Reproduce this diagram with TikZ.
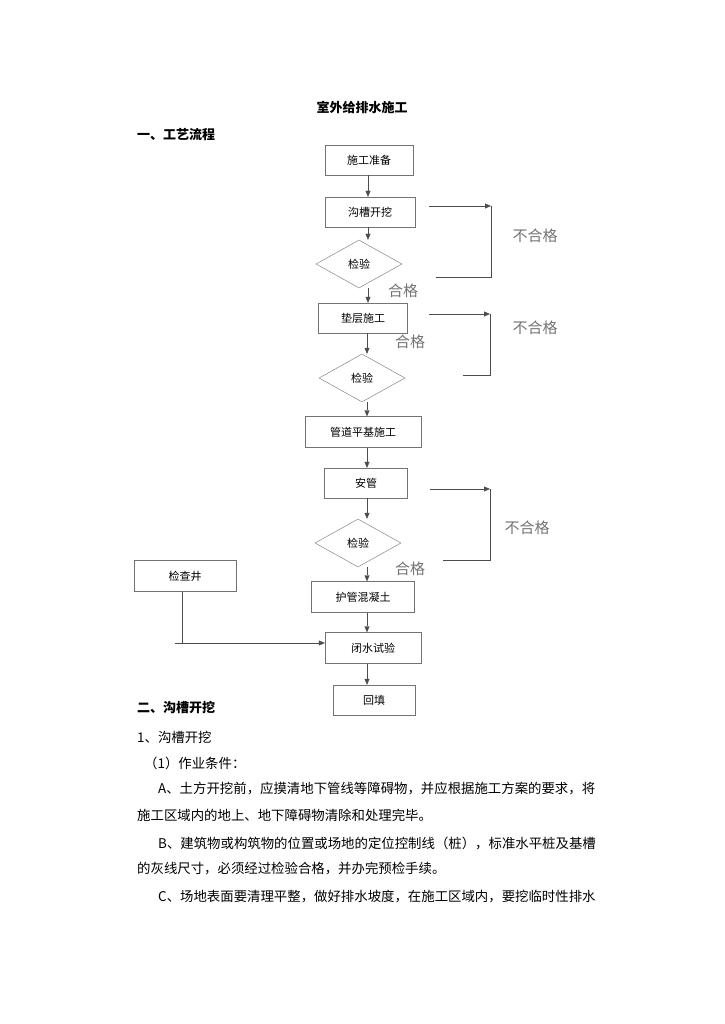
\documentclass[tikz,border=0pt]{standalone}
\usepackage{fontspec}
\setmainfont{Noto Sans CJK SC}
\usetikzlibrary{shapes,arrows.meta,positioning}

\begin{document}
\begin{tikzpicture}[
    x=1pt, y=-1pt,
    box/.style={rectangle, draw=black!55, fill=white, font=\fontsize{11}{13}\selectfont},
    dia/.style={diamond, draw=black!55, aspect=1.8, inner sep=1pt, minimum width=86pt, minimum height=48pt, font=\fontsize{11}{13}\selectfont},
    arrow/.style={-{Triangle[length=6pt,width=5pt]}, draw=black!70},
    line/.style={draw=black!70},
    pass/.style={text=black!55, font=\fontsize{15}{17}\selectfont},
    body/.style={anchor=west, font=\fontsize{13.4}{16}\selectfont, inner sep=0pt},
    head/.style={anchor=west, font=\bfseries\fontsize{13}{15}\selectfont, inner sep=0pt}
]
\useasboundingbox[fill=white] (0,0) rectangle (724,1024);

% Headings
\node[font=\bfseries\fontsize{13}{15}\selectfont] (title) at (362,107) {室外给排水施工};
\node[head] (h1) at (137,135) {一、工艺流程};

% Main column
\node[box, minimum width=88pt, minimum height=30pt] (prep) at (369,160) {施工准备};
\node[box, minimum width=90pt, minimum height=30pt] (dig) at (370,212) {沟槽开挖};
\node[dia] (chk1) at (359,264) {检验};
\node[box, minimum width=89pt, minimum height=30pt] (bed) at (363,318) {垫层施工};
\node[dia] (chk2) at (362,378) {检验};
\node[box, minimum width=116pt, minimum height=31pt] (base) at (363,432) {管道平基施工};
\node[box, minimum width=83pt, minimum height=30pt] (pipe) at (366,483) {安管};
\node[dia] (chk3) at (358,543) {检验};
\node[box, minimum width=103pt, minimum height=31pt] (conc) at (363,597) {护管混凝土};
\node[box, minimum width=96pt, minimum height=31pt] (test) at (373,648) {闭水试验};
\node[box, minimum width=82pt, minimum height=30pt] (fill) at (374,700) {回填};
\node[box, minimum width=102pt, minimum height=31pt] (well) at (185,576) {检查井};

% Labels
\node[pass] (ok1) at (403,291) {合格};
\node[pass] (ok2) at (410,342) {合格};
\node[pass] (ok3) at (410,569) {合格};
\node[pass] (ng1) at (535,236) {不合格};
\node[pass] (ng2) at (535,328) {不合格};
\node[pass] (ng3) at (527,528) {不合格};

% Main arrows
\draw[arrow] (prep.south -| 368,0) -- (dig.north -| 368,0);
\draw[arrow] (dig.south -| 368,0) -- (chk1.north -| 368,0);
\draw[arrow] (chk1.south -| 368,0) -- (bed.north -| 368,0);
\draw[arrow] (bed.south -| 367,0) -- (chk2.north -| 367,0);
\draw[arrow] (chk2.south -| 367,0) -- (base.north -| 367,0);
\draw[arrow] (base.south -| 367,0) -- (pipe.north -| 367,0);
\draw[arrow] (pipe.south -| 367,0) -- (chk3.north -| 367,0);
\draw[arrow] (chk3.south -| 367,0) -- (conc.north -| 367,0);
\draw[arrow] (conc.south -| 367,0) -- (test.north -| 367,0);
\draw[arrow] (test.south -| 367,0) -- (fill.north -| 367,0);

% Failed loops
\coordinate (a1) at (429,206); \coordinate (b1) at (491,206);
\coordinate (c1) at (491,277); \coordinate (d1) at (436,277);
\draw[arrow] (a1) -- (b1);
\draw[line] (b1) -- (c1) -- (d1);
\coordinate (a2) at (429,314); \coordinate (b2) at (490,314);
\coordinate (c2) at (490,375); \coordinate (d2) at (463,375);
\draw[arrow] (a2) -- (b2);
\draw[line] (b2) -- (c2) -- (d2);
\coordinate (a3) at (430,489); \coordinate (b3) at (490,489);
\coordinate (c3) at (490,560); \coordinate (d3) at (443,560);
\draw[arrow] (a3) -- (b3);
\draw[line] (b3) -- (c3) -- (d3);

% Manhole
\coordinate (w1) at (182,643); \coordinate (w0) at (175,643);
\draw[line] (well.south -| w1) -- (w1);
\draw[arrow] (w0) -- (test.west |- w0);

% Text below
\node[head] (h2) at (137,708) {二、沟槽开挖};
\node[body] (t1) at (137,737) {1、沟槽开挖};
\node[body] (t2) at (144,763) {（1）作业条件：};
\node[body] (t3) at (158,789) {A、土方开挖前，应摸清地下管线等障碍物，并应根据施工方案的要求，将};
\node[body] (t4) at (137,815) {施工区域内的地上、地下障碍物清除和处理完毕。};
\node[body] (t5) at (158,843) {B、建筑物或构筑物的位置或场地的定位控制线（桩），标准水平桩及基槽};
\node[body] (t6) at (137,869) {的灰线尺寸，必须经过检验合格，并办完预检手续。};
\node[body] (t7) at (158,897) {C、场地表面要清理平整，做好排水坡度，在施工区域内，要挖临时性排水};
\end{tikzpicture}
\end{document}
